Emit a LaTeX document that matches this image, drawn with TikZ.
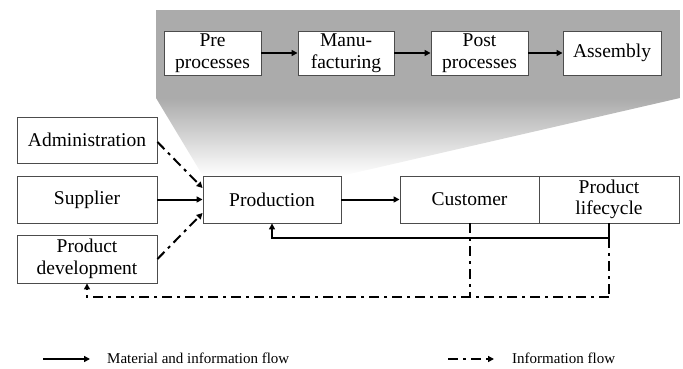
\documentclass[tikz,border=0pt]{standalone}
\usepackage{fontspec}
\setmainfont{Liberation Serif}
\usetikzlibrary{arrows.meta,calc}
\begin{document}
\begin{tikzpicture}[x=1pt,y=-1pt,
  box/.style={draw=black!70,line width=0.9pt,fill=white,align=center,inner sep=0pt,
    font=\fontsize{19.5}{21.5}\selectfont},
  flow/.style={line width=2pt,-{Triangle[length=6pt,width=6pt]}},
  info/.style={line width=2pt,dash pattern=on 10pt off 5pt on 3pt off 5pt,-{Triangle[length=6pt,width=6pt]}},
  infoline/.style={line width=2pt,dash pattern=on 10pt off 5pt on 3pt off 5pt},
  legtext/.style={anchor=west,font=\fontsize{15}{17}\selectfont,inner sep=0pt}]
\useasboundingbox (0,0) rectangle (683,369);
% gray panel
\fill[black!33] (156,10) rectangle (680,98);
\shade[top color=black!33,bottom color=white] (156,98) -- (680,98) -- (341,176) -- (203,176) -- cycle;
% top boxes
\node[box,minimum width=97pt,minimum height=44pt] (pre) at (212.5,53) {Pre\\processes};
\node[box,minimum width=96pt,minimum height=44pt] (manu) at (346,53) {Manu-\\facturing};
\node[box,minimum width=97pt,minimum height=44pt] (post) at (479.5,53) {Post\\processes};
\node[box,minimum width=98pt,minimum height=44pt] (asm) at (612,53) {Assembly};
\draw[flow] (pre) -- (manu);
\draw[flow] (manu) -- (post);
\draw[flow] (post) -- (asm);
% main row
\node[box,minimum width=140pt,minimum height=46pt] (adm) at (87,140) {Administration};
\node[box,minimum width=140pt,minimum height=47pt] (sup) at (87,199.5) {Supplier};
\node[box,minimum width=140pt,minimum height=48pt] (pd) at (87,259) {Product\\development};
\node[box,minimum width=138pt,minimum height=47pt] (prod) at (272,199.5) {Production};
\node[box,minimum width=139pt,minimum height=47pt] (cust) at (469.5,199.5) {Customer};
\node[box,minimum width=140pt,minimum height=47pt] (lc) at (609,199.5) {Product\\lifecycle};
\draw[info] ([yshift=-2pt]adm.east) -- ([yshift=11.5pt]prod.west);
\draw[flow] (sup) -- (prod);
\draw[info] (pd.east) -- ([yshift=-13.5pt]prod.west);
\draw[flow] (prod) -- (cust);
\draw[flow] (lc.south) -- ++(0,15) -| (prod.south);
\coordinate (bl) at (0,297);
\draw[infoline] ([yshift=-15pt]lc.south) -- (lc.south |- bl);
\draw[infoline] (cust.south) -- (cust.south |- bl);
\draw[info] (lc.south |- bl) -- (pd.south |- bl) -- (pd.south);
% legend
\coordinate (l1a) at (43,359); \coordinate (l1b) at (90,359);
\coordinate (l2a) at (448,359); \coordinate (l2b) at (494,359);
\draw[flow] (l1a) -- (l1b);
\node[legtext] (t1) at (107,358) {Material and information flow};
\draw[info] (l2a) -- (l2b);
\node[legtext] (t2) at (512,358) {Information flow};
\end{tikzpicture}
\end{document}
